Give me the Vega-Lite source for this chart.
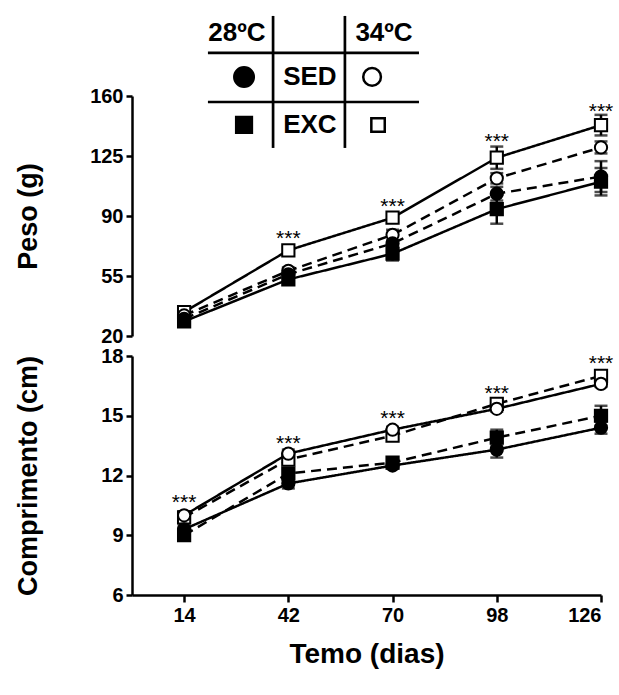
{
  "$schema": "https://vega.github.io/schema/vega-lite/v6.json",
  "background": "white",
  "padding": {"left": 14, "top": 14, "right": 0, "bottom": 5},
  "bounds": "flush",
  "spacing": 20,
  "config": {
    "view": {"stroke": null},
    "font": "Liberation Sans",
    "axis": {
      "domainColor": "black", "domainWidth": 2.5, "tickColor": "black", "tickWidth": 2.5,
      "labelFont": "Liberation Sans", "labelFontWeight": "bold", "labelFontSize": 20, "labelColor": "black",
      "titleFont": "Liberation Sans", "titleFontWeight": "bold", "titleFontSize": 27, "titleColor": "black",
      "grid": false, "labelPadding": 3
    }
  },
  "datasets": {
    "m": [
      {"panel": "peso", "g": "34EXC", "temp": "34", "cond": "EXC", "day": 14, "mean": 34, "sem": 1},
      {"panel": "peso", "g": "34EXC", "temp": "34", "cond": "EXC", "day": 42, "mean": 70, "sem": 2},
      {"panel": "peso", "g": "34EXC", "temp": "34", "cond": "EXC", "day": 70, "mean": 89, "sem": 2.5},
      {"panel": "peso", "g": "34EXC", "temp": "34", "cond": "EXC", "day": 98, "mean": 124, "sem": 6.5},
      {"panel": "peso", "g": "34EXC", "temp": "34", "cond": "EXC", "day": 126, "mean": 143, "sem": 6},
      {"panel": "peso", "g": "34SED", "temp": "34", "cond": "SED", "day": 14, "mean": 32, "sem": 1},
      {"panel": "peso", "g": "34SED", "temp": "34", "cond": "SED", "day": 42, "mean": 58, "sem": 2},
      {"panel": "peso", "g": "34SED", "temp": "34", "cond": "SED", "day": 70, "mean": 79, "sem": 3},
      {"panel": "peso", "g": "34SED", "temp": "34", "cond": "SED", "day": 98, "mean": 112, "sem": 3},
      {"panel": "peso", "g": "34SED", "temp": "34", "cond": "SED", "day": 126, "mean": 130, "sem": 3.5},
      {"panel": "peso", "g": "28SED", "temp": "28", "cond": "SED", "day": 14, "mean": 30, "sem": 1},
      {"panel": "peso", "g": "28SED", "temp": "28", "cond": "SED", "day": 42, "mean": 56, "sem": 2},
      {"panel": "peso", "g": "28SED", "temp": "28", "cond": "SED", "day": 70, "mean": 74, "sem": 4},
      {"panel": "peso", "g": "28SED", "temp": "28", "cond": "SED", "day": 98, "mean": 103, "sem": 4},
      {"panel": "peso", "g": "28SED", "temp": "28", "cond": "SED", "day": 126, "mean": 113, "sem": 9},
      {"panel": "peso", "g": "28EXC", "temp": "28", "cond": "EXC", "day": 14, "mean": 28.5, "sem": 1},
      {"panel": "peso", "g": "28EXC", "temp": "28", "cond": "EXC", "day": 42, "mean": 53, "sem": 2.5},
      {"panel": "peso", "g": "28EXC", "temp": "28", "cond": "EXC", "day": 70, "mean": 68, "sem": 4},
      {"panel": "peso", "g": "28EXC", "temp": "28", "cond": "EXC", "day": 98, "mean": 94, "sem": 8.5},
      {"panel": "peso", "g": "28EXC", "temp": "28", "cond": "EXC", "day": 126, "mean": 110, "sem": 8},
      {"panel": "comp", "g": "34EXC", "temp": "34", "cond": "EXC", "day": 14, "mean": 9.9, "sem": 0.2},
      {"panel": "comp", "g": "34EXC", "temp": "34", "cond": "EXC", "day": 42, "mean": 12.8, "sem": 0.2},
      {"panel": "comp", "g": "34EXC", "temp": "34", "cond": "EXC", "day": 70, "mean": 14.0, "sem": 0.15},
      {"panel": "comp", "g": "34EXC", "temp": "34", "cond": "EXC", "day": 98, "mean": 15.6, "sem": 0.15},
      {"panel": "comp", "g": "34EXC", "temp": "34", "cond": "EXC", "day": 126, "mean": 17.0, "sem": 0.15},
      {"panel": "comp", "g": "34SED", "temp": "34", "cond": "SED", "day": 14, "mean": 10.0, "sem": 0.2},
      {"panel": "comp", "g": "34SED", "temp": "34", "cond": "SED", "day": 42, "mean": 13.1, "sem": 0.2},
      {"panel": "comp", "g": "34SED", "temp": "34", "cond": "SED", "day": 70, "mean": 14.3, "sem": 0.15},
      {"panel": "comp", "g": "34SED", "temp": "34", "cond": "SED", "day": 98, "mean": 15.35, "sem": 0.15},
      {"panel": "comp", "g": "34SED", "temp": "34", "cond": "SED", "day": 126, "mean": 16.6, "sem": 0.15},
      {"panel": "comp", "g": "28EXC", "temp": "28", "cond": "EXC", "day": 14, "mean": 9.0, "sem": 0.25},
      {"panel": "comp", "g": "28EXC", "temp": "28", "cond": "EXC", "day": 42, "mean": 12.1, "sem": 0.25},
      {"panel": "comp", "g": "28EXC", "temp": "28", "cond": "EXC", "day": 70, "mean": 12.65, "sem": 0.15},
      {"panel": "comp", "g": "28EXC", "temp": "28", "cond": "EXC", "day": 98, "mean": 13.9, "sem": 0.4},
      {"panel": "comp", "g": "28EXC", "temp": "28", "cond": "EXC", "day": 126, "mean": 15.0, "sem": 0.5},
      {"panel": "comp", "g": "28SED", "temp": "28", "cond": "SED", "day": 14, "mean": 9.3, "sem": 0.2},
      {"panel": "comp", "g": "28SED", "temp": "28", "cond": "SED", "day": 42, "mean": 11.6, "sem": 0.25},
      {"panel": "comp", "g": "28SED", "temp": "28", "cond": "SED", "day": 70, "mean": 12.5, "sem": 0.15},
      {"panel": "comp", "g": "28SED", "temp": "28", "cond": "SED", "day": 98, "mean": 13.3, "sem": 0.4},
      {"panel": "comp", "g": "28SED", "temp": "28", "cond": "SED", "day": 126, "mean": 14.4, "sem": 0.3}
    ],
    "stars": [
      {"panel": "peso", "day": 42, "y": 80.3},
      {"panel": "peso", "day": 70, "y": 98.7},
      {"panel": "peso", "day": 98, "y": 136.7},
      {"panel": "peso", "day": 126, "y": 154.2},
      {"panel": "comp", "day": 14, "y": 10.9},
      {"panel": "comp", "day": 42, "y": 13.9},
      {"panel": "comp", "day": 70, "y": 15.15},
      {"panel": "comp", "day": 98, "y": 16.4},
      {"panel": "comp", "day": 126, "y": 17.88}
    ],
    "lrules": [
      {"x": 37.9, "x2": 37.9, "y": 206.7, "y2": 129.7},
      {"x": 57.2, "x2": 57.2, "y": 206.7, "y2": 129.7},
      {"x": 20.4, "x2": 77.1, "y": 185.1, "y2": 185.1},
      {"x": 20.4, "x2": 77.1, "y": 156.5, "y2": 156.5}
    ],
    "ltext": [
      {"x": 28.2, "y": 196.7, "t": "28ºC"},
      {"x": 67.7, "y": 196.7, "t": "34ºC"},
      {"x": 47.8, "y": 171.1, "t": "SED"},
      {"x": 47.8, "y": 143.1, "t": "EXC"}
    ],
    "lsym": [
      {"x": 30.1, "y": 171.1, "sym": "28SED", "temp": "28", "cond": "SED"},
      {"x": 64.5, "y": 171.1, "sym": "34SED", "temp": "34", "cond": "SED"},
      {"x": 30.1, "y": 143.1, "sym": "28EXC", "temp": "28", "cond": "EXC"},
      {"x": 66.1, "y": 143.1, "sym": "34EXC", "temp": "34", "cond": "EXC"}
    ]
  },
  "resolve": {"scale": {"strokeDash": "independent"}},
  "vconcat": [
    {
      "width": 469,
      "height": 240,
      "layer": [
        {
          "data": {"name": "m"},
          "transform": [{"filter": "datum.panel == 'peso'"}],
          "mark": {"type": "line", "strokeWidth": 2.5, "color": "black"},
          "encoding": {
            "x": {"field": "day", "type": "quantitative", "scale": {"domain": [0, 126], "nice": false, "zero": false}, "axis": null},
            "y": {"field": "mean", "type": "quantitative", "scale": {"domain": [20, 160], "nice": false, "zero": false}, "title": "Peso (g)",
              "axis": {"values": [20, 37.5, 55, 72.5, 90, 107.5, 125, 142.5, 160], "labelExpr": "datum.value % 35 == 20 ? datum.label : ''",
                "tickSize": {"condition": {"test": "datum.value % 35 != 20", "value": 3}, "value": 6}, "titlePadding": 47}},
            "detail": {"field": "g"},
            "strokeDash": {"field": "cond", "type": "nominal", "scale": {"domain": ["EXC", "SED"], "range": [[1, 0], [10, 6]]}, "legend": null}
          }
        },
        {
          "data": {"name": "m"},
          "transform": [{"filter": "datum.panel == 'peso'"}],
          "mark": {"type": "errorbar", "ticks": {"size": 13, "color": "black"}, "thickness": 2.5, "color": "black"},
          "encoding": {
            "x": {"field": "day", "type": "quantitative", "scale": {"domain": [0, 126], "nice": false, "zero": false}, "axis": null},
            "y": {"field": "mean", "type": "quantitative", "scale": {"domain": [20, 160], "nice": false, "zero": false}, "title": "Peso (g)"},
            "yError": {"field": "sem"}
          }
        },
        {
          "data": {"name": "m"},
          "transform": [{"filter": "datum.panel == 'peso'"}],
          "mark": {"type": "point", "filled": true, "stroke": "black", "strokeWidth": 2, "size": 150, "opacity": 1},
          "encoding": {
            "x": {"field": "day", "type": "quantitative", "scale": {"domain": [0, 126], "nice": false, "zero": false}, "axis": null},
            "y": {"field": "mean", "type": "quantitative", "scale": {"domain": [20, 160], "nice": false, "zero": false}, "title": "Peso (g)"},
            "shape": {"field": "cond", "type": "nominal", "scale": {"domain": ["SED", "EXC"], "range": ["circle", "square"]}, "legend": null},
            "fill": {"field": "temp", "type": "nominal", "scale": {"domain": ["28", "34"], "range": ["black", "white"]}, "legend": null}
          }
        },
        {
          "data": {"name": "stars"},
          "transform": [{"filter": "datum.panel == 'peso'"}],
          "mark": {"type": "text", "text": "***", "fontSize": 21, "font": "Liberation Sans", "baseline": "alphabetic", "dy": 12, "color": "black"},
          "encoding": {
            "x": {"field": "day", "type": "quantitative", "scale": {"domain": [0, 126], "nice": false, "zero": false}, "axis": null},
            "y": {"field": "y", "type": "quantitative", "scale": {"domain": [20, 160], "nice": false, "zero": false}, "title": "Peso (g)"}
          }
        },
        {
          "data": {"name": "lrules"},
          "mark": {"type": "rule", "strokeWidth": 2.7, "color": "black"},
          "encoding": {
            "x": {"field": "x", "type": "quantitative", "scale": {"domain": [0, 126], "nice": false, "zero": false}, "axis": null},
            "x2": {"field": "x2"},
            "y": {"field": "y", "type": "quantitative", "scale": {"domain": [20, 160], "nice": false, "zero": false}, "title": "Peso (g)"},
            "y2": {"field": "y2"}
          }
        },
        {
          "data": {"name": "ltext"},
          "mark": {"type": "text", "fontSize": 26, "fontWeight": "bold", "font": "Liberation Sans", "baseline": "middle", "align": "center", "color": "black"},
          "encoding": {
            "x": {"field": "x", "type": "quantitative", "scale": {"domain": [0, 126], "nice": false, "zero": false}, "axis": null},
            "y": {"field": "y", "type": "quantitative", "scale": {"domain": [20, 160], "nice": false, "zero": false}, "title": "Peso (g)"},
            "text": {"field": "t"}
          }
        },
        {
          "data": {"name": "lsym"},
          "mark": {"type": "point", "filled": true, "stroke": "black", "strokeWidth": 2.5, "opacity": 1},
          "encoding": {
            "x": {"field": "x", "type": "quantitative", "scale": {"domain": [0, 126], "nice": false, "zero": false}, "axis": null},
            "y": {"field": "y", "type": "quantitative", "scale": {"domain": [20, 160], "nice": false, "zero": false}, "title": "Peso (g)"},
            "shape": {"field": "cond", "type": "nominal", "scale": {"domain": ["SED", "EXC"], "range": ["circle", "square"]}, "legend": null},
            "fill": {"field": "temp", "type": "nominal", "scale": {"domain": ["28", "34"], "range": ["black", "white"]}, "legend": null},
            "size": {"field": "sym", "type": "nominal", "scale": {"domain": ["28SED", "34SED", "28EXC", "34EXC"], "range": [380, 180, 420, 380]}, "legend": null}
          }
        }
      ]
    },
    {
      "width": 469,
      "height": 239,
      "layer": [
        {
          "data": {"name": "m"},
          "transform": [{"filter": "datum.panel == 'comp'"}],
          "mark": {"type": "line", "strokeWidth": 2.5, "color": "black"},
          "encoding": {
            "x": {"field": "day", "type": "quantitative", "scale": {"domain": [0, 126], "nice": false, "zero": false}, "title": "Temo (dias)",
              "axis": {"values": [14, 42, 70, 98, 126], "tickSize": 7, "titlePadding": 15, "titleFontSize": 28}},
            "y": {"field": "mean", "type": "quantitative", "scale": {"domain": [6, 18], "nice": false, "zero": false}, "title": "Comprimento (cm)",
              "axis": {"values": [6, 7.5, 9, 10.5, 12, 13.5, 15, 16.5, 18], "labelExpr": "datum.value % 3 == 0 ? datum.label : ''",
                "tickSize": {"condition": {"test": "datum.value % 3 != 0", "value": 3}, "value": 6}, "titlePadding": 58}},
            "detail": {"field": "g"},
            "strokeDash": {"field": "cond", "type": "nominal", "scale": {"domain": ["EXC", "SED"], "range": [[10, 6], [1, 0]]}, "legend": null}
          }
        },
        {
          "data": {"name": "m"},
          "transform": [{"filter": "datum.panel == 'comp'"}],
          "mark": {"type": "errorbar", "ticks": {"size": 13, "color": "black"}, "thickness": 2.5, "color": "black"},
          "encoding": {
            "x": {"field": "day", "type": "quantitative", "scale": {"domain": [0, 126], "nice": false, "zero": false}, "title": "Temo (dias)"},
            "y": {"field": "mean", "type": "quantitative", "scale": {"domain": [6, 18], "nice": false, "zero": false}, "title": "Comprimento (cm)"},
            "yError": {"field": "sem"}
          }
        },
        {
          "data": {"name": "m"},
          "transform": [{"filter": "datum.panel == 'comp'"}],
          "mark": {"type": "point", "filled": true, "stroke": "black", "strokeWidth": 2, "size": 150, "opacity": 1},
          "encoding": {
            "x": {"field": "day", "type": "quantitative", "scale": {"domain": [0, 126], "nice": false, "zero": false}, "title": "Temo (dias)"},
            "y": {"field": "mean", "type": "quantitative", "scale": {"domain": [6, 18], "nice": false, "zero": false}, "title": "Comprimento (cm)"},
            "shape": {"field": "cond", "type": "nominal", "scale": {"domain": ["SED", "EXC"], "range": ["circle", "square"]}, "legend": null},
            "fill": {"field": "temp", "type": "nominal", "scale": {"domain": ["28", "34"], "range": ["black", "white"]}, "legend": null}
          }
        },
        {
          "data": {"name": "stars"},
          "transform": [{"filter": "datum.panel == 'comp'"}],
          "mark": {"type": "text", "text": "***", "fontSize": 21, "font": "Liberation Sans", "baseline": "alphabetic", "dy": 12, "color": "black"},
          "encoding": {
            "x": {"field": "day", "type": "quantitative", "scale": {"domain": [0, 126], "nice": false, "zero": false}, "title": "Temo (dias)"},
            "y": {"field": "y", "type": "quantitative", "scale": {"domain": [6, 18], "nice": false, "zero": false}, "title": "Comprimento (cm)"}
          }
        }
      ]
    }
  ]
}
